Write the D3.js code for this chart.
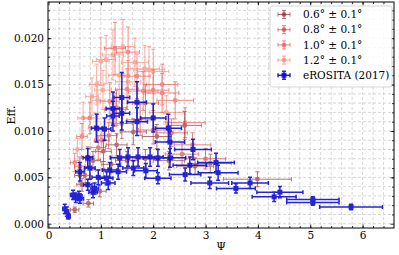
<!DOCTYPE html>
<html>
<head>
<meta charset="utf-8">
<script src="https://cdn.jsdelivr.net/npm/d3@7"></script>
<style>
  body { margin: 0; background: #fff; }
  svg { display: block; }
</style>
</head>
<body>
<svg width="399" height="255"></svg>
<script>
// series: 0.6 deg
const s06X = [0.50, 0.76, 0.98, 0.64, 0.60, 0.85, 1.20, 1.50, 1.85, 2.30, 3.09, 3.99, 1.62, 2.07, 2.60, 1.30, 2.80, 1.05];
const s06Y = [0.0015, 0.0022, 0.0035, 0.0042, 0.0052, 0.0068, 0.0064, 0.0068, 0.0070, 0.0068, 0.0065, 0.0048, 0.0099, 0.0094, 0.0106, 0.0085, 0.0062, 0.0078];
const s06Xe = [0.08, 0.10, 0.12, 0.10, 0.10, 0.14, 0.18, 0.22, 0.25, 0.30, 0.40, 0.65, 0.25, 0.28, 0.32, 0.20, 0.35, 0.15];
const s06Ye = [0.0003, 0.0004, 0.0006, 0.0007, 0.0008, 0.0010, 0.0009, 0.0010, 0.0010, 0.0010, 0.0010, 0.0008, 0.0014, 0.0013, 0.0015, 0.0012, 0.0009, 0.0011];

// series: 0.8 deg
const s08X = [0.60, 0.75, 0.95, 1.15, 1.40, 1.75, 2.00, 2.35, 2.75, 3.00, 2.55, 1.05, 1.30, 1.85, 0.70];
const s08Y = [0.0062, 0.0072, 0.0082, 0.0095, 0.0108, 0.0112, 0.0101, 0.0098, 0.0085, 0.0070, 0.0075, 0.0058, 0.0125, 0.0130, 0.0052];
const s08Xe = [0.10, 0.12, 0.14, 0.16, 0.20, 0.25, 0.28, 0.30, 0.35, 0.38, 0.32, 0.15, 0.20, 0.25, 0.10];
const s08Ye = [0.0010, 0.0011, 0.0013, 0.0014, 0.0016, 0.0017, 0.0015, 0.0015, 0.0013, 0.0011, 0.0012, 0.0009, 0.0019, 0.0020, 0.0008];

// series: 1.0 deg
const s10X = [0.50, 0.64, 1.02, 0.79, 1.17, 1.27, 1.50, 1.81, 2.00, 2.17, 2.42, 2.61, 1.27, 1.52, 1.69, 2.17, 0.90];
const s10Y = [0.0066, 0.0094, 0.0090, 0.0114, 0.0132, 0.0123, 0.0145, 0.0143, 0.0144, 0.0141, 0.0133, 0.0109, 0.0189, 0.0185, 0.0159, 0.0150, 0.0104];
const s10Xe = [0.08, 0.10, 0.14, 0.12, 0.18, 0.20, 0.22, 0.28, 0.30, 0.32, 0.35, 0.38, 0.20, 0.22, 0.25, 0.30, 0.14];
const s10Ye = [0.0010, 0.0014, 0.0013, 0.0017, 0.0020, 0.0018, 0.0022, 0.0021, 0.0022, 0.0021, 0.0020, 0.0016, 0.0028, 0.0027, 0.0024, 0.0022, 0.0015];

// series: 1.2 deg
const s12X = [0.66, 0.83, 0.92, 0.94, 1.00, 1.10, 1.23, 1.42, 1.52, 1.65, 1.84, 1.92, 2.00, 1.04, 2.25, 0.55, 1.35];
const s12Y = [0.0114, 0.0137, 0.0150, 0.0133, 0.0175, 0.0177, 0.0182, 0.0191, 0.0153, 0.0174, 0.0167, 0.0166, 0.0164, 0.0144, 0.0120, 0.0080, 0.0160];
const s12Xe = [0.10, 0.12, 0.14, 0.14, 0.16, 0.18, 0.20, 0.22, 0.24, 0.26, 0.28, 0.30, 0.30, 0.16, 0.32, 0.08, 0.20];
const s12Ye = [0.0017, 0.0020, 0.0022, 0.0020, 0.0026, 0.0026, 0.0027, 0.0029, 0.0023, 0.0026, 0.0025, 0.0025, 0.0024, 0.0021, 0.0018, 0.0012, 0.0024];

// eROSITA (2017)
const eroX = [0.31, 0.35, 0.38, 0.47, 0.52, 0.60, 0.58, 0.85, 0.88, 0.60, 0.75, 0.79, 0.75, 0.95, 1.11, 1.14, 1.17, 1.33, 1.36, 1.52, 1.62, 1.71, 1.94, 2.09, 2.32, 2.32, 2.29, 2.61, 2.70, 2.76, 2.09, 1.86, 0.92, 1.07, 1.23, 1.23, 1.40, 1.40, 1.69, 1.69, 2.00, 3.20, 3.24, 3.08, 3.58, 3.85, 4.42, 4.31, 5.05, 5.05, 5.78];
const eroY = [0.0016, 0.0013, 0.0008, 0.0031, 0.0028, 0.0027, 0.0030, 0.0034, 0.0038, 0.0056, 0.0042, 0.0060, 0.0071, 0.0050, 0.0049, 0.0044, 0.0058, 0.0056, 0.0071, 0.0072, 0.0060, 0.0072, 0.0072, 0.0071, 0.0071, 0.0088, 0.0103, 0.0053, 0.0063, 0.0080, 0.0049, 0.0057, 0.0103, 0.0102, 0.0124, 0.0116, 0.0136, 0.0119, 0.0131, 0.0110, 0.0114, 0.0066, 0.0055, 0.0044, 0.0038, 0.0044, 0.0034, 0.0029, 0.0026, 0.0023, 0.0018];
const eroXe = [0.03, 0.03, 0.03, 0.05, 0.06, 0.07, 0.06, 0.08, 0.07, 0.08, 0.08, 0.10, 0.09, 0.12, 0.12, 0.13, 0.14, 0.16, 0.18, 0.20, 0.20, 0.22, 0.25, 0.28, 0.30, 0.28, 0.25, 0.30, 0.32, 0.35, 0.25, 0.22, 0.10, 0.12, 0.13, 0.12, 0.15, 0.15, 0.18, 0.20, 0.24, 0.35, 0.38, 0.36, 0.37, 0.35, 0.44, 0.42, 0.50, 0.50, 0.60];
const eroYe = [0.0005, 0.0005, 0.0003, 0.0005, 0.0005, 0.0005, 0.0005, 0.0006, 0.0006, 0.0010, 0.0006, 0.0012, 0.0010, 0.0008, 0.0007, 0.0007, 0.0008, 0.0008, 0.0009, 0.0010, 0.0008, 0.0010, 0.0010, 0.0009, 0.0010, 0.0012, 0.0015, 0.0007, 0.0009, 0.0011, 0.0006, 0.0008, 0.0015, 0.0012, 0.0018, 0.0016, 0.0027, 0.0018, 0.0022, 0.0015, 0.0015, 0.0010, 0.0008, 0.0006, 0.0005, 0.0006, 0.0006, 0.0005, 0.0003, 0.0003, 0.0003];

const legendLabels = ["0.6° ± 0.1°", "0.8° ± 0.1°", "1.0° ± 0.1°", "1.2° ± 0.1°", "eROSITA (2017)"];
const xTicks = [0, 1, 2, 3, 4, 5, 6];
const yTicks = [0, 0.005, 0.010, 0.015, 0.020];

const series = [
  { x: s06X, y: s06Y, xe: s06Xe, ye: s06Ye, color: "#841515", alpha: 0.6, lw: 1, r: 2.4, sq: false },
  { x: s08X, y: s08Y, xe: s08Xe, ye: s08Ye, color: "#cc2e2e", alpha: 0.6, lw: 1, r: 2.4, sq: false },
  { x: s10X, y: s10Y, xe: s10Xe, ye: s10Ye, color: "#ee4036", alpha: 0.6, lw: 1, r: 2.4, sq: false },
  { x: s12X, y: s12Y, xe: s12Xe, ye: s12Ye, color: "#f77560", alpha: 0.6, lw: 1, r: 2.4, sq: false },
  { x: eroX, y: eroY, xe: eroXe, ye: eroYe, color: "#0808cf", alpha: 0.88, lw: 1.5, r: 2.5, sq: true }
];

const mLeft = 48, mRight = 394, mTop = 2, mBottom = 228;
const x = d3.scaleLinear([-0.01, 6.6], [mLeft, mRight]);
const y = d3.scaleLinear([-0.00046, 0.0239], [mBottom, mTop]);

const svg = d3.select("svg");
const font = "'DejaVu Serif', serif";

// grid
const grid = svg.append("g")
    .attr("stroke", "#cdcdcd")
    .attr("stroke-width", 0.8)
    .attr("stroke-dasharray", "3,2");
grid.selectAll(".gx")
  .data(d3.range(0.2, 6.6, 0.2))
  .join("line")
    .attr("class", "gx")
    .attr("x1", d => x(d)).attr("x2", d => x(d))
    .attr("y1", mTop).attr("y2", mBottom);
grid.selectAll(".gy")
  .data(d3.range(0, 0.0239, 0.001))
  .join("line")
    .attr("class", "gy")
    .attr("y1", d => y(d)).attr("y2", d => y(d))
    .attr("x1", mLeft).attr("x2", mRight);

// error bars
svg.append("clipPath").attr("id", "clip")
  .append("rect").attr("x", mLeft).attr("y", mTop).attr("width", mRight - mLeft).attr("height", mBottom - mTop);
const plot = svg.append("g").attr("clip-path", "url(#clip)");

const drawSeries = (g, s) => {
    const data = s.x.map((v, i) => ({ x: v, y: s.y[i], xe: s.xe[i], ye: s.ye[i] }));
    const cap = 2;
    const path = d => `
      M${x(d.x - d.xe)},${y(d.y)}H${x(d.x + d.xe)}
      M${x(d.x)},${y(d.y - d.ye)}V${y(d.y + d.ye)}
      M${x(d.x - d.xe)},${y(d.y) - cap}v${2 * cap}
      M${x(d.x + d.xe)},${y(d.y) - cap}v${2 * cap}
      M${x(d.x) - cap},${y(d.y - d.ye)}h${2 * cap}
      M${x(d.x) - cap},${y(d.y + d.ye)}h${2 * cap}`;
    const sg = g.append("g").attr("opacity", s.alpha);
    sg.selectAll("path")
      .data(data)
      .join("path")
        .attr("d", path)
        .attr("fill", "none")
        .attr("stroke", s.color)
        .attr("stroke-width", s.lw);
    if (s.sq) {
        sg.selectAll("rect")
          .data(data)
          .join("rect")
            .attr("x", d => x(d.x) - s.r)
            .attr("y", d => y(d.y) - s.r)
            .attr("width", 2 * s.r)
            .attr("height", 2 * s.r)
            .attr("fill", s.color);
    } else {
        sg.selectAll("circle")
          .data(data)
          .join("circle")
            .attr("cx", d => x(d.x))
            .attr("cy", d => y(d.y))
            .attr("r", s.r)
            .attr("fill", s.color);
    }
};
series.forEach(s => drawSeries(plot, s));

// axes, ticks inward on all sides
const axes = svg.append("g");
const styleAxis = g => {
    g.select(".domain").remove();
    g.selectAll("line").attr("stroke", "#000").attr("stroke-width", 0.8);
    g.selectAll("text").attr("font-family", font).attr("font-size", 10.5).attr("fill", "#000");
};
const xMinor = d3.range(0.2, 6.6, 0.2);
const yMinor = d3.range(0.001, 0.0239, 0.001);
axes.append("g").attr("transform", `translate(0,${mBottom})`)
    .call(d3.axisBottom(x).tickValues(xTicks).tickFormat(d3.format("d")).tickSizeInner(-3.5).tickSizeOuter(0).tickPadding(4))
    .call(styleAxis);
axes.append("g").attr("transform", `translate(0,${mBottom})`)
    .call(d3.axisBottom(x).tickValues(xMinor).tickFormat("").tickSizeInner(-2).tickSizeOuter(0))
    .call(styleAxis);
axes.append("g").attr("transform", `translate(0,${mTop})`)
    .call(d3.axisTop(x).tickValues(xTicks).tickFormat("").tickSizeInner(-3.5).tickSizeOuter(0))
    .call(styleAxis);
axes.append("g").attr("transform", `translate(0,${mTop})`)
    .call(d3.axisTop(x).tickValues(xMinor).tickFormat("").tickSizeInner(-2).tickSizeOuter(0))
    .call(styleAxis);
axes.append("g").attr("transform", `translate(${mLeft},0)`)
    .call(d3.axisLeft(y).tickValues(yTicks).tickFormat(d3.format(".3f")).tickSizeInner(-3.5).tickSizeOuter(0).tickPadding(4))
    .call(styleAxis);
axes.append("g").attr("transform", `translate(${mLeft},0)`)
    .call(d3.axisLeft(y).tickValues(yMinor).tickFormat("").tickSizeInner(-2).tickSizeOuter(0))
    .call(styleAxis);
axes.append("g").attr("transform", `translate(${mRight},0)`)
    .call(d3.axisRight(y).tickValues(yTicks).tickFormat("").tickSizeInner(-3.5).tickSizeOuter(0))
    .call(styleAxis);
axes.append("g").attr("transform", `translate(${mRight},0)`)
    .call(d3.axisRight(y).tickValues(yMinor).tickFormat("").tickSizeInner(-2).tickSizeOuter(0))
    .call(styleAxis);

svg.append("rect")
    .attr("x", mLeft).attr("y", mTop)
    .attr("width", mRight - mLeft).attr("height", mBottom - mTop)
    .attr("fill", "none").attr("stroke", "#000").attr("stroke-width", 1);

// axis labels
svg.append("text")
    .attr("x", (mLeft + mRight) / 2).attr("y", 250)
    .attr("text-anchor", "middle")
    .attr("font-family", font).attr("font-size", 11)
    .text("Ψ");
svg.append("text")
    .attr("transform", `translate(15,${(mTop + mBottom) / 2}) rotate(-90)`)
    .attr("text-anchor", "middle")
    .attr("font-family", font).attr("font-size", 11)
    .text("Eff.");

// legend
const lg = svg.append("g").attr("transform", "translate(270,6)");
lg.append("rect")
    .attr("width", 122).attr("height", 81).attr("rx", 2)
    .attr("fill", "#fff").attr("fill-opacity", 0.85)
    .attr("stroke", "#ccc").attr("stroke-width", 0.8);
const row = lg.selectAll(".row")
  .data(series)
  .join("g")
    .attr("class", "row")
    .attr("transform", (d, i) => `translate(0,${8.5 + i * 15.2})`);
row.append("path")
    .attr("d", "M8,0H20M8,-2v4M20,-2v4M14,-4V4M12,-4h4M12,4h4")
    .attr("fill", "none")
    .attr("stroke", d => d.color)
    .attr("stroke-width", d => d.lw)
    .attr("opacity", d => d.alpha);
row.filter(d => !d.sq).append("circle")
    .attr("cx", 14).attr("r", d => d.r)
    .attr("fill", d => d.color).attr("opacity", d => d.alpha);
row.filter(d => d.sq).append("rect")
    .attr("x", d => 14 - d.r).attr("y", d => -d.r)
    .attr("width", d => 2 * d.r).attr("height", d => 2 * d.r)
    .attr("fill", d => d.color).attr("opacity", d => d.alpha);
row.append("text")
    .attr("x", 33).attr("dy", "0.35em")
    .attr("font-family", font).attr("font-size", 10.5)
    .text((d, i) => legendLabels[i]);
</script>
</body>
</html>
